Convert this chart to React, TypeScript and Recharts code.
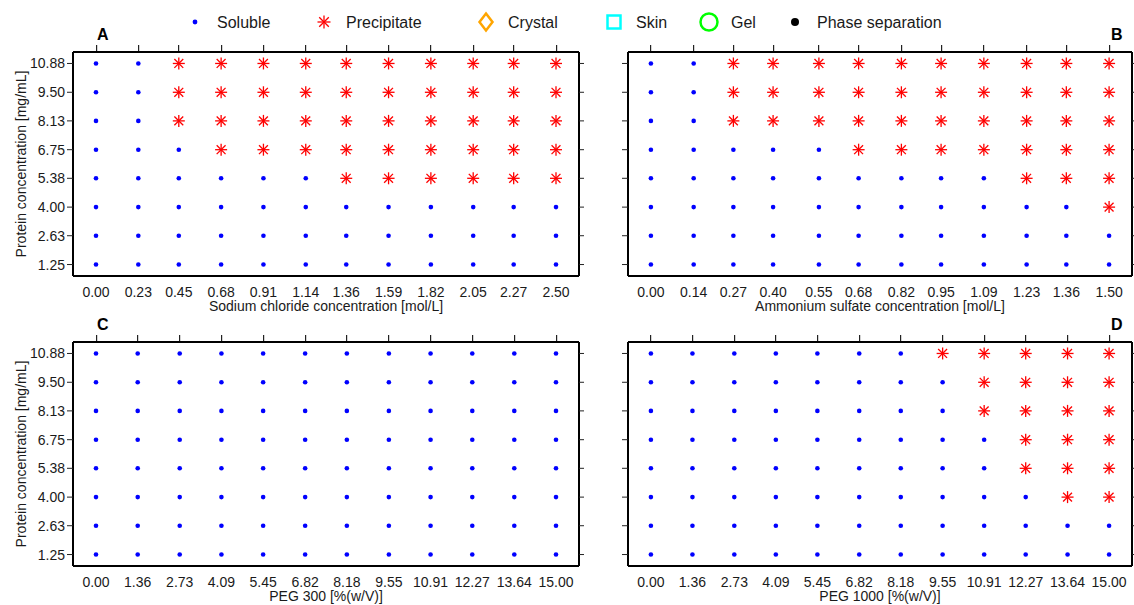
import React from 'react';
import { ScatterChart, Scatter, XAxis, YAxis } from 'recharts';

// ---------------- data ----------------
const proteinConc = [1.25, 2.63, 4.0, 5.38, 6.75, 8.13, 9.5, 10.88];
const naclConc = [0.0, 0.23, 0.45, 0.68, 0.91, 1.14, 1.36, 1.59, 1.82, 2.05, 2.27, 2.5];
const ammoniumSulfateConc = [0.0, 0.14, 0.27, 0.4, 0.55, 0.68, 0.82, 0.95, 1.09, 1.23, 1.36, 1.5];
const peg300Conc = [0.0, 1.36, 2.73, 4.09, 5.45, 6.82, 8.18, 9.55, 10.91, 12.27, 13.64, 15.0];
const peg1000Conc = [0.0, 1.36, 2.73, 4.09, 5.45, 6.82, 8.18, 9.55, 10.91, 12.27, 13.64, 15.0];

// lowest additive concentration where precipitate was observed, per protein concentration (ascending order); null = soluble everywhere
const naclPrecipOnset: (number | null)[] = [null, null, null, 1.36, 0.68, 0.45, 0.45, 0.45];
const ammoniumSulfatePrecipOnset: (number | null)[] = [null, null, 1.5, 1.23, 0.68, 0.27, 0.27, 0.27];
const peg300PrecipOnset: (number | null)[] = [null, null, null, null, null, null, null, null];
const peg1000PrecipOnset: (number | null)[] = [null, null, 13.64, 12.27, 12.27, 10.91, 10.91, 9.55];

const legendItems = ['Soluble', 'Precipitate', 'Crystal', 'Skin', 'Gel', 'Phase separation'];

// ---------------- styling ----------------
const FONT = '"Liberation Sans", Arial, Helvetica, sans-serif';
const TEXT = '#1a1a1a';
const PLOT_H = 224;
const TOP_H = 10;
const BOTTOM_H = 45;
const TICK_COLOR = '#222';

function Star({ cx, cy, r = 6, color = '#FF0000', sw = 1.3 }: any) {
  const d = r * 0.74;
  return (
    <g stroke={color} strokeWidth={sw} fill="none">
      <line x1={cx - r} y1={cy} x2={cx + r} y2={cy} />
      <line x1={cx} y1={cy - r} x2={cx} y2={cy + r} />
      <line x1={cx - d} y1={cy - d} x2={cx + d} y2={cy + d} />
      <line x1={cx - d} y1={cy + d} x2={cx + d} y2={cy - d} />
    </g>
  );
}

function Dot({ cx, cy }: any) {
  return <circle cx={cx} cy={cy} r={2.3} fill="#0000FF" />;
}

// outward tick on the top edge of the frame, placed by the x scale at the top of the y domain
function TopTickMark({ cx, cy }: any) {
  if (cx == null || cy == null) return <g />;
  return <rect x={Math.floor(cx)} y={cy - 7} width={1.2} height={6} fill={TICK_COLOR} />;
}

const emptyLabel = () => '';

type PanelProps = {
  left: number;
  top: number;
  xs: number[];
  onset: (number | null)[];
  xTitle: string;
  showY: boolean;
  leftW: number;
  rightW: number;
  plotW: number;
};

function Panel({ left, top, xs, onset, xTitle, showY, leftW, rightW, plotW }: PanelProps) {
  const sol: { x: number; y: number }[] = [];
  const pre: { x: number; y: number }[] = [];
  proteinConc.forEach((p, i) => {
    xs.forEach((x) => {
      const o = onset[i];
      if (o != null && x >= o - 1e-9) pre.push({ x, y: p });
      else sol.push({ x, y: p });
    });
  });
  const xr = xs[xs.length - 1] - xs[0];
  const xDomain = [xs[0] - 0.05 * xr, xs[xs.length - 1] + 0.05 * xr];
  const yr = proteinConc[proteinConc.length - 1] - proteinConc[0];
  const yDomain = [proteinConc[0] - 0.057 * yr, proteinConc[proteinConc.length - 1] + 0.057 * yr];
  const topTicks = xs.map((x) => ({ x, y: yDomain[1] }));
  const axisLine = { stroke: '#000', strokeWidth: 2 };
  const tickLine = { stroke: TICK_COLOR, strokeWidth: 1 };
  const tickFont = { fontSize: 14, fill: TEXT, fontFamily: FONT };
  return (
    <div style={{ position: 'absolute', left, top }}>
      <ScatterChart
        width={leftW + plotW + rightW}
        height={TOP_H + PLOT_H + BOTTOM_H}
        margin={{ top: 0, right: 0, bottom: 0, left: 0 }}
      >
        <XAxis
          xAxisId="top"
          orientation="top"
          type="number"
          domain={xDomain}
          ticks={xs}
          interval={0}
          height={TOP_H}
          tick={false}
          tickLine={false}
          axisLine={axisLine}
          allowDataOverflow
        />
        <XAxis
          xAxisId="bottom"
          orientation="bottom"
          type="number"
          dataKey="x"
          domain={xDomain}
          ticks={xs}
          interval={0}
          height={BOTTOM_H}
          tickLine={false}
          tickSize={5}
          tickMargin={6}
          tick={tickFont}
          tickFormatter={(v: number) => v.toFixed(2)}
          axisLine={axisLine}
          label={{
            value: xTitle,
            position: 'insideBottom',
            offset: 10,
            style: { fontSize: 14, fill: TEXT, fontFamily: FONT },
          }}
        />
        <YAxis
          yAxisId="left"
          orientation="left"
          type="number"
          dataKey="y"
          domain={yDomain}
          ticks={proteinConc}
          interval={0}
          width={leftW}
          tick={tickFont}
          tickFormatter={showY ? (v: number) => v.toFixed(2) : emptyLabel}
          tickSize={6}
          tickMargin={2}
          axisLine={axisLine}
          tickLine={tickLine}
          label={
            showY
              ? {
                  value: 'Protein concentration [mg/mL]',
                  angle: -90,
                  position: 'insideLeft',
                  offset: 21,
                  style: { textAnchor: 'middle', fontSize: 14, fill: TEXT, fontFamily: FONT },
                }
              : undefined
          }
        />
        <YAxis
          yAxisId="right"
          orientation="right"
          type="number"
          dataKey="y"
          domain={yDomain}
          ticks={proteinConc}
          interval={0}
          width={rightW}
          tick={tickFont}
          tickFormatter={emptyLabel}
          tickSize={5}
          axisLine={axisLine}
          tickLine={tickLine}
          allowDataOverflow
        />
        <Scatter
          data={topTicks}
          xAxisId="bottom"
          yAxisId="left"
          shape={(p: any) => <TopTickMark cx={p.cx} cy={p.cy} />}
          isAnimationActive={false}
        />
        <Scatter
          data={sol}
          xAxisId="bottom"
          yAxisId="left"
          shape={(p: any) => <Dot cx={p.cx} cy={p.cy} />}
          isAnimationActive={false}
        />
        <Scatter
          data={pre}
          xAxisId="bottom"
          yAxisId="left"
          shape={(p: any) => <Star cx={p.cx} cy={p.cy} />}
          isAnimationActive={false}
        />
      </ScatterChart>
    </div>
  );
}

function Overlay() {
  const ly = 22;
  const tb = 27.5;
  const ts = { fontSize: 16, fill: TEXT, fontFamily: FONT } as any;
  return (
    <svg
      width={1134}
      height={40}
      style={{ position: 'absolute', left: 0, top: 0, pointerEvents: 'none' }}
    >
      <circle cx={195} cy={ly} r={2.4} fill="#0000FF" />
      <text x={217} y={tb} style={ts}>{legendItems[0]}</text>
      <Star cx={324} cy={ly} r={6.5} />
      <text x={346} y={tb} style={ts}>{legendItems[1]}</text>
      <polygon
        points={`486,${ly - 8.5} 492.5,${ly} 486,${ly + 8.5} 479.5,${ly}`}
        fill="none"
        stroke="#FFA500"
        strokeWidth={2.5}
      />
      <text x={508} y={tb} style={ts}>{legendItems[2]}</text>
      <rect x={607.5} y={ly - 6.5} width={13} height={13} fill="none" stroke="#00FFFF" strokeWidth={2.5} />
      <text x={636} y={tb} style={ts}>{legendItems[3]}</text>
      <circle cx={709} cy={ly} r={8.5} fill="none" stroke="#00FF00" strokeWidth={2.5} />
      <text x={731} y={tb} style={ts}>{legendItems[4]}</text>
      <circle cx={795} cy={ly} r={4} fill="#000" />
      <text x={817} y={tb} style={ts}>{legendItems[5]}</text>
    </svg>
  );
}

function PanelLetter({ x, y, children }: any) {
  return (
    <svg width={20} height={20} style={{ position: 'absolute', left: x, top: y - 16, pointerEvents: 'none' }}>
      <text x={0} y={16} fontSize={16} fontWeight="bold" fill="#000" fontFamily={FONT}>
        {children}
      </text>
    </svg>
  );
}

export default function App() {
  return (
    <div
      style={{
        position: 'absolute',
        left: 0,
        top: 0,
        width: 1134,
        height: 605,
        background: '#fff',
        fontFamily: FONT,
        overflow: 'hidden',
      }}
    >
      <Overlay />
      <Panel left={0} top={42} xs={naclConc} onset={naclPrecipOnset}
        xTitle="Sodium chloride concentration [mol/L]" showY leftW={73} rightW={10} plotW={506} />
      <Panel left={608} top={42} xs={ammoniumSulfateConc} onset={ammoniumSulfatePrecipOnset}
        xTitle="Ammonium sulfate concentration [mol/L]" showY={false} leftW={20} rightW={2} plotW={504} />
      <Panel left={0} top={332} xs={peg300Conc} onset={peg300PrecipOnset}
        xTitle="PEG 300 [%(w/V)]" showY leftW={73} rightW={10} plotW={506} />
      <Panel left={608} top={332} xs={peg1000Conc} onset={peg1000PrecipOnset}
        xTitle="PEG 1000 [%(w/V)]" showY={false} leftW={20} rightW={2} plotW={504} />
      <PanelLetter x={96.5} y={40}>A</PanelLetter>
      <PanelLetter x={1111} y={40}>B</PanelLetter>
      <PanelLetter x={96.5} y={330}>C</PanelLetter>
      <PanelLetter x={1111} y={330}>D</PanelLetter>
    </div>
  );
}
